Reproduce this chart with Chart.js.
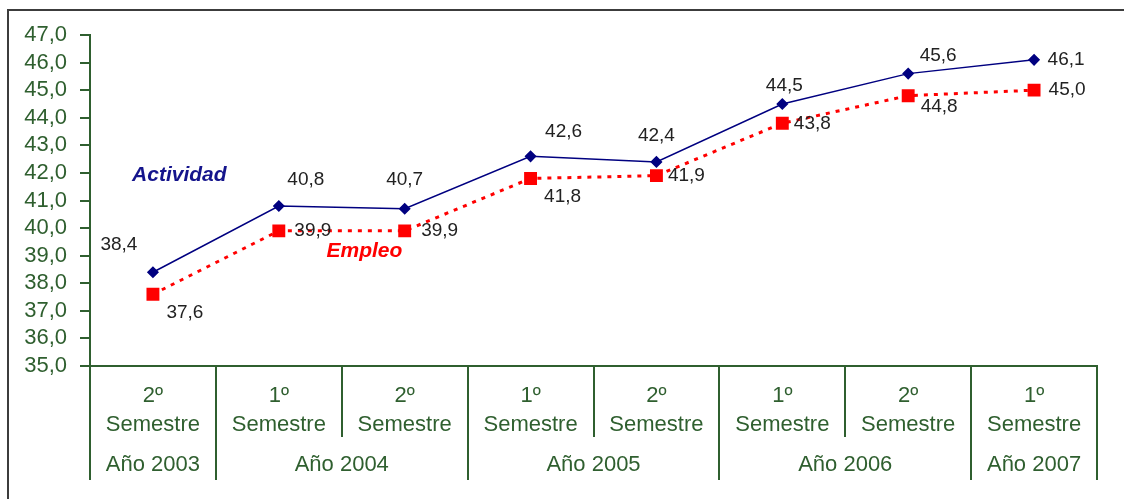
<!DOCTYPE html>
<html>
<head>
<meta charset="utf-8">
<script src="https://cdn.jsdelivr.net/npm/chart.js@4"></script>
<style>
body{margin:0;background:#fff;overflow:hidden;}
#marco{position:absolute;left:7px;top:9px;width:1300px;height:700px;border-top:2px solid #3c3c3c;border-left:2px solid #3c3c3c;}
#wrap{position:absolute;left:0;top:0;width:1124px;height:499px;}
</style>
</head>
<body>
<div id="marco"></div>
<div id="wrap"><canvas id="grafico" width="1124" height="499"></canvas></div>
<script>
// semestres (dos lineas cada uno) y agrupacion por año
const semestres = [['2º','Semestre'],['1º','Semestre'],['2º','Semestre'],['1º','Semestre'],
                   ['2º','Semestre'],['1º','Semestre'],['2º','Semestre'],['1º','Semestre']];
const anios = ['Año 2003','Año 2004','Año 2005','Año 2006','Año 2007'];
const semPorAnio = [1,2,2,2,1];

const actividad = [38.4,40.8,40.7,42.6,42.4,44.5,45.6,46.1];
const empleo    = [37.6,39.9,39.9,41.8,41.9,43.8,44.8,45.0];

const yMin = 35, yMax = 47, yPaso = 1;

const verde = '#2f5f2f';
const fuente = 'Liberation Sans, Arial, sans-serif';
const fmt = v => v.toFixed(1).replace('.', ',');

// desplazamiento de cada etiqueta de valor respecto a su punto
const despl = [
  [[-34,-27],[27,-26],[0,-29],[33,-25],[0,-26],[2,-18],[30,-18],[32,0]],
  [[32,18],[34,0],[35,0],[32,18],[30,0],[30,0],[31,11],[33,0]]
];

const extras = {
  id: 'extras',
  afterDraw(chart){
    const ctx = chart.ctx, sx = chart.scales.x, sy = chart.scales.y;
    const base = sy.bottom;
    ctx.save();

    // separadores de semestres y años
    const cortes = [0];
    semPorAnio.forEach(n => cortes.push(cortes[cortes.length-1] + n));
    ctx.strokeStyle = verde;
    ctx.lineWidth = 2;
    for (let i = 0; i <= semestres.length; i++) {
      const px = Math.round(sx.getPixelForValue(i - 0.5));
      const largo = cortes.includes(i) ? 114 : 71;
      ctx.beginPath();
      ctx.moveTo(px, base);
      ctx.lineTo(px, base + largo);
      ctx.stroke();
    }

    // fila de años
    ctx.fillStyle = verde;
    ctx.font = '22px ' + fuente;
    ctx.textAlign = 'center';
    ctx.textBaseline = 'middle';
    anios.forEach((a, k) => {
      const x0 = sx.getPixelForValue(cortes[k] - 0.5);
      const x1 = sx.getPixelForValue(cortes[k+1] - 0.5);
      ctx.fillText(a, (x0 + x1) / 2, base + 99);
    });

    // etiquetas de valores
    ctx.fillStyle = '#222';
    ctx.font = '19px ' + fuente;
    chart.data.datasets.forEach((ds, d) => {
      chart.getDatasetMeta(d).data.forEach((p, i) => {
        ctx.fillText(fmt(ds.data[i]), p.x + despl[d][i][0], p.y + despl[d][i][1]);
      });
    });

    // nombres de las series
    ctx.font = 'italic bold 21px ' + fuente;
    ctx.fillStyle = '#14148c';
    ctx.fillText('Actividad', sx.getPixelForValue(0.21), sy.getPixelForValue(41.93));
    ctx.fillStyle = '#ff0000';
    ctx.fillText('Empleo', sx.getPixelForValue(1.68), sy.getPixelForValue(39.17));
    ctx.restore();
  }
};

new Chart(document.getElementById('grafico'), {
  type: 'line',
  data: {
    labels: semestres,
    datasets: [{
      label: 'Actividad',
      data: actividad,
      borderColor: '#000080',
      backgroundColor: '#000080',
      borderWidth: 1.5,
      pointStyle: 'rectRot',
      pointRadius: 5,
      tension: 0
    }, {
      label: 'Empleo',
      data: empleo,
      borderColor: '#ff0000',
      backgroundColor: '#ff0000',
      borderWidth: 3,
      borderDash: [4, 6],
      pointStyle: 'rect',
      pointRadius: 7,
      tension: 0
    }]
  },
  options: {
    responsive: false,
    animation: false,
    layout: { padding: { top: 35, right: 27, left: 0, bottom: 0 } },
    plugins: { legend: { display: false }, tooltip: { enabled: false } },
    scales: {
      x: {
        offset: true,
        grid: { display: false, drawTicks: false },
        border: { display: true, color: verde, width: 2 },
        ticks: { color: verde, font: { family: fuente, size: 22, lineHeight: 1.32 }, padding: 15, maxRotation: 0, autoSkip: false },
        afterFit(s){ s.height = 133; }
      },
      y: {
        min: yMin,
        max: yMax,
        ticks: { stepSize: yPaso, autoSkip: false, color: verde, font: { family: fuente, size: 22, lineHeight: 1 }, padding: 13, callback: v => fmt(v) },
        grid: { drawOnChartArea: false, drawTicks: true, tickLength: 10, color: verde, lineWidth: 2 },
        border: { color: verde, width: 2 },
        afterFit(s){ s.width = 90; }
      }
    }
  },
  plugins: [extras]
});
</script>
</body>
</html>
